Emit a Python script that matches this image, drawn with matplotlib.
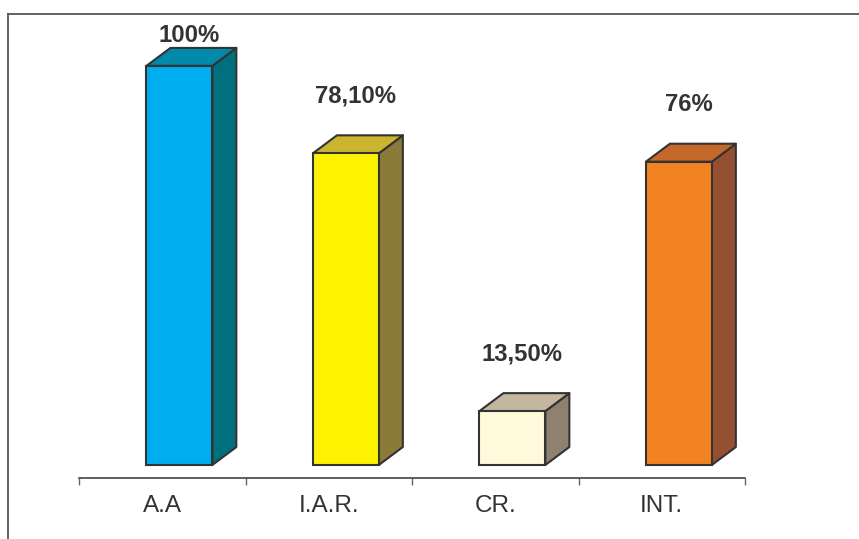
import matplotlib

matplotlib.use("Agg")

import matplotlib.pyplot as plt
from matplotlib.patches import Polygon

plt.rcParams["font.family"] = ["Liberation Sans", "DejaVu Sans"]

categories = ["A.A", "I.A.R.", "CR.", "INT."]
values = [100.0, 78.1, 13.5, 76.0]
value_labels = ["100%", "78,10%", "13,50%", "76%"]

front_colors = ["#00aeef", "#fff200", "#fffadc", "#f28322"]
side_colors = ["#006f7e", "#8c7a3a", "#8f8070", "#955032"]
top_colors = ["#0089a9", "#cbb52e", "#c4b7a0", "#c5692b"]

EDGE = "#333333"
TEXT = "#333333"

W, H = 859, 539
fig = plt.figure(figsize=(W / 100, H / 100), dpi=100)

# outer frame (only left and top edges are visible in the crop)
frame = fig.add_axes([8 / W, -0.05, 1.0, 1 - 14 / H + 0.05])
frame.set_xticks([])
frame.set_yticks([])
for side in ("right", "bottom"):
    frame.spines[side].set_visible(False)
for side in ("left", "top"):
    frame.spines[side].set_color("#555555")
    frame.spines[side].set_linewidth(1.3)
frame.patch.set_alpha(0)

ax = fig.add_axes([79 / W, (H - 478) / H, (745 - 79) / W, (478 - 14) / H])
ax.patch.set_alpha(0)
ax.set_xlim(-0.5, len(categories) - 0.5)
ax.set_ylim(-3.26, 113.0)

x_off = -0.095
bar_w = 0.396
dx = 0.144
dy = 4.5

for i, v in enumerate(values):
    x0 = i + x_off
    x1 = x0 + bar_w
    ax.bar(x0, v, width=bar_w, align="edge", color=front_colors[i],
           edgecolor=EDGE, linewidth=1.5, zorder=3)
    side = [(x1, 0), (x1 + dx, dy), (x1 + dx, v + dy), (x1, v)]
    top = [(x0, v), (x1, v), (x1 + dx, v + dy), (x0 + dx, v + dy)]
    ax.add_patch(Polygon(side, closed=True, facecolor=side_colors[i],
                         edgecolor=EDGE, linewidth=1.5, zorder=2, joinstyle="round"))
    ax.add_patch(Polygon(top, closed=True, facecolor=top_colors[i],
                         edgecolor=EDGE, linewidth=1.5, zorder=2, joinstyle="round"))
    ax.text(x0 + bar_w / 2 + 0.06, min(v + 14.3, 107.7), value_labels[i],
            ha="center", va="center", fontsize=17.2, fontweight="bold", color=TEXT)

for side in ("left", "right", "top"):
    ax.spines[side].set_visible(False)
ax.spines["bottom"].set_color("#444444")
ax.spines["bottom"].set_linewidth(1.2)
ax.set_yticks([])

ax.set_xticks([i - 0.5 for i in range(len(categories) + 1)])
ax.set_xticklabels([])
ax.tick_params(axis="x", which="major", direction="out", length=5,
               width=1.0, color="#666666")
ax.set_xticks(range(len(categories)), minor=True)
ax.set_xticklabels(categories, minor=True, fontsize=17.5, color=TEXT)
ax.tick_params(axis="x", which="minor", length=0, pad=12)

fig.savefig("out.png", dpi=100)
plt.close(fig)
